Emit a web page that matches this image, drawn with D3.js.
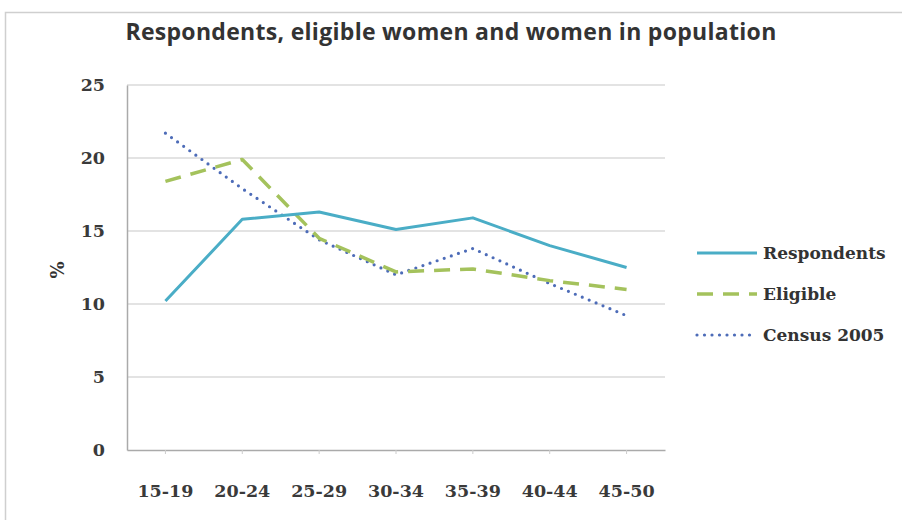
<!DOCTYPE html>
<html><head><meta charset="utf-8">
<script src="https://cdn.jsdelivr.net/npm/d3@7"></script>
<style>body{margin:0;background:#fff}svg{display:block}</style>
</head><body>
<svg id="c" width="902" height="520"></svg>
<script>
const categories = ["15-19","20-24","25-29","30-34","35-39","40-44","45-50"];
const respondents = [10.2, 15.8, 16.3, 15.1, 15.9, 14.0, 12.5];
const eligible    = [18.4, 19.9, 14.5, 12.2, 12.4, 11.6, 11.0];
const census      = [21.7, 17.9, 14.4, 12.0, 13.8, 11.4, 9.2];
const yTicks = [0,5,10,15,20,25];
const seriesNames = ["Respondents","Eligible","Census 2005"];

const svg = d3.select("#c");
const m = {l:127, r:665, t:85, b:450};
const x = d3.scaleBand().domain(categories).range([m.l, m.r]);
const y = d3.scaleLinear().domain([0,25]).range([m.b, m.t]);
const cx = d => x(d) + x.bandwidth()/2;
const serif = "'DejaVu Serif', serif";

// outer border
svg.append("rect").attr("x",5.5).attr("y",12.5).attr("width",902).attr("height",520)
  .attr("fill","none").attr("stroke","#cfcfcf").attr("stroke-width",1.5);

// title
svg.append("text").attr("x",451).attr("y",40).attr("text-anchor","middle")
  .attr("font-family","'Open Sans', sans-serif").attr("font-weight","700")
  .attr("font-size",23).attr("fill","#333").attr("letter-spacing","0.3")
  .text("Respondents, eligible women and women in population");

// grid
svg.append("g").selectAll("line").data(yTicks.filter(t=>t>0)).join("line")
  .attr("x1",m.l).attr("x2",m.r).attr("y1",d=>y(d)).attr("y2",d=>y(d))
  .attr("stroke","#dadada").attr("stroke-width",1.5);

// axes
const yAxis = svg.append("g").attr("transform",`translate(${m.l},0)`)
  .call(d3.axisLeft(y).tickValues(yTicks).tickSize(0).tickPadding(22));
yAxis.select(".domain").attr("stroke","#aaa").attr("stroke-width",1.5);
yAxis.selectAll("text").attr("font-family",serif).attr("font-weight","700")
  .attr("font-size",17.5).attr("fill","#3a3a3a");

const xAxis = svg.append("g").attr("transform",`translate(0,${m.b})`)
  .call(d3.axisBottom(x).tickSize(4).tickSizeOuter(0).tickPadding(31));
xAxis.select(".domain").attr("stroke","#aaa").attr("stroke-width",1.5);
xAxis.selectAll(".tick line").attr("stroke","#ccc");
xAxis.selectAll("text").attr("font-family",serif).attr("font-weight","700")
  .attr("font-size",17.5).attr("fill","#3a3a3a");

svg.append("text").attr("transform","translate(58,270) rotate(-90)").attr("text-anchor","middle")
  .attr("dy","0.35em")
  .attr("font-family",serif).attr("font-weight","700").attr("font-size",18)
  .attr("fill","#333").text("%");

const styles = [
  {data:respondents, color:"#4aadc6", width:3, dash:null, cap:"butt"},
  {data:eligible, color:"#a4c25c", width:3.5, dash:"16 10", cap:"butt"},
  {data:census, color:"#4d6cb8", width:3.2, dash:"0 7.5", cap:"round"}
];
const line = d3.line().x((d,i)=>cx(categories[i])).y(d=>y(d));
styles.slice().reverse().forEach(s=>{
  svg.append("path").attr("d",line(s.data)).attr("fill","none")
    .attr("stroke",s.color).attr("stroke-width",s.width)
    .attr("stroke-dasharray",s.dash).attr("stroke-linecap",s.cap)
    .attr("stroke-linejoin","round");
});

// legend
const ly = [253, 294, 335];
styles.forEach((s,i)=>{
  svg.append("line").attr("x1",697).attr("x2",757).attr("y1",ly[i]).attr("y2",ly[i])
    .attr("stroke",s.color).attr("stroke-width",s.width)
    .attr("stroke-dasharray",s.dash).attr("stroke-linecap",s.cap);
  svg.append("text").attr("x",763).attr("y",ly[i]).attr("dy","0.35em")
    .attr("font-family",serif).attr("font-weight","700").attr("font-size",17)
    .attr("fill","#333").text(seriesNames[i]);
});
</script>
</body></html>
